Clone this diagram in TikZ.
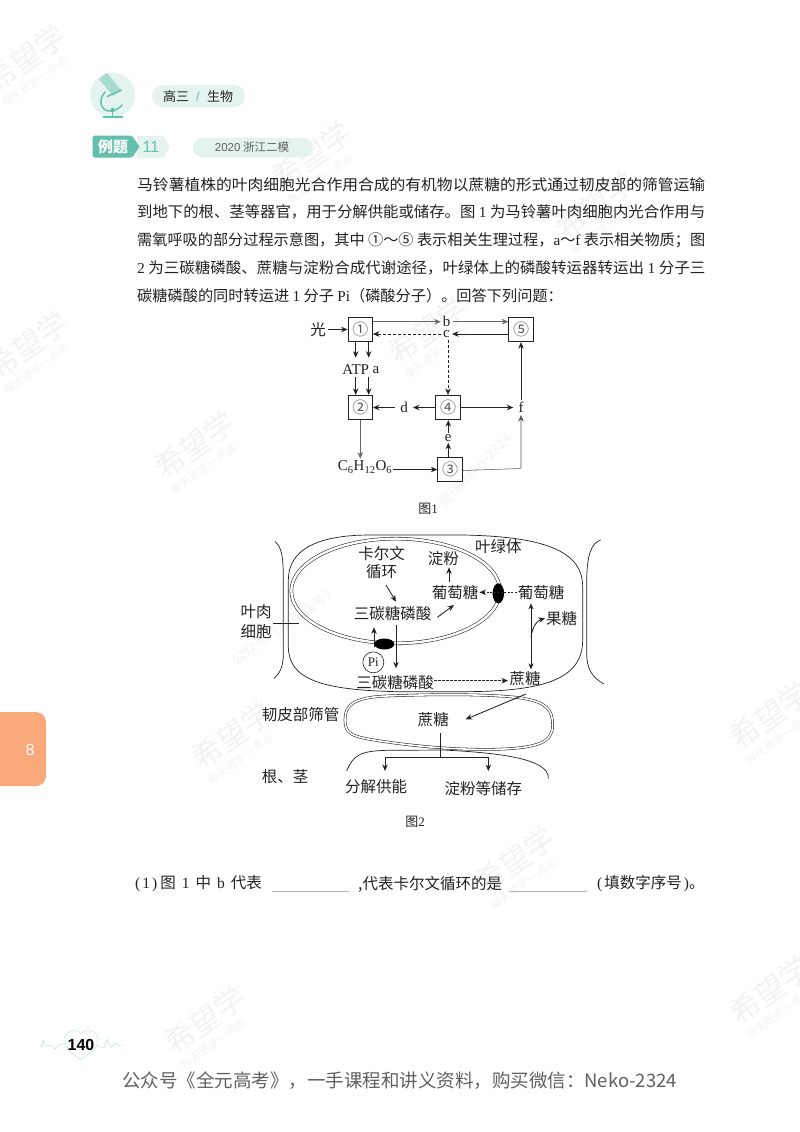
\documentclass[tikz,border=0pt]{standalone}
\usepackage{fontspec}
\usetikzlibrary{arrows.meta,shapes.geometric,calc}
\setmainfont{Liberation Serif}
\newfontfamily\cjk{Noto Sans CJK SC}
\newfontfamily\hei{Liberation Sans}
\newcommand{\fs}[1]{\fontsize{#1}{#1}\selectfont}
\newcommand{\jl}[1]{\resizebox{568pt}{\height}{#1}}
\newcommand{\lat}[1]{{\rmfamily #1}}
\definecolor{tealA}{HTML}{62C0AC}
\definecolor{tealB}{HTML}{E4F3EF}
\definecolor{tealC}{HTML}{A6DCCF}
\definecolor{wm}{HTML}{F3F3F3}
\definecolor{ink}{HTML}{222222}
\tikzset{
  x=1pt,y=-1pt,
  arr/.style={-{Stealth[length=6.5pt,width=5.5pt]},line width=.85pt,color=ink},
  thinarr/.style={arr,color=gray!80!black,line width=.55pt},
  dasharr/.style={arr,dashed,dash pattern=on 3pt off 2pt,line width=.55pt},
  bx/.style={draw=ink,line width=.8pt,minimum size=24.5pt,inner sep=0pt,font=\cjk\fs{16},text=gray!70!black},
  lab/.style={inner sep=2pt,font=\fs{15},text=ink},
  zh/.style={inner sep=0pt,font=\cjk\fs{15.5},text=ink,align=center},
  body/.style={anchor=west,inner sep=0pt,font=\cjk\fs{15.2},text=ink},
  dbl/.style={draw=ink,line width=.55pt,double=white,double distance=2.4pt},
  dbl2/.style={draw=ink,line width=.55pt,double=white,double distance=1.6pt},
  crv/.style={draw=ink,line width=.7pt},
  wmk/.style={inner sep=0pt,font=\cjk\fs{30},text=wm,rotate=35},
  wms/.style={inner sep=0pt,font=\cjk\fs{11},text=wm,rotate=35},
  qtext/.style={anchor=west,inner sep=0pt,font=\cjk\fs{15.5},text=ink},
}
\begin{document}
\begin{tikzpicture}
\useasboundingbox (0,0) rectangle (800,1132);
\fill[white] (0,0) rectangle (800,1132);
% watermarks
\foreach \n/\a/\b in {w1/26/58,w2/312/155,w3/428/330,w4/28/345,w5/195/445,w6/232/735,w7/515/860,w8/205/1020,w9/770/990,w10/770/715,w11/595/205}{
  \node[wmk] (\n) at (\a,\b) {希望学};
  \node[wms] (\n s) at (\a+9,\b+24) {每天进步一点点};
}
\node[wms,rotate=10,font=\cjk\fs{14}] (wmA) at (475,470) {微信Neko-2324};
\node[wms,font=\cjk\fs{14}] (wmB) at (285,625) {公众号《全元高考》};
% tab
\path[fill={rgb,255:red,249;green,168;blue,122}] (0,712) -- (36,712) arc[start angle=-90,end angle=0,radius=10] -- (46,776) arc[start angle=0,end angle=90,radius=10] -- (0,786) -- cycle;
\node[inner sep=0pt,font=\hei\fs{16},text=white] (tabn) at (30,750) {8};
% header icon
\fill[tealB] (112.7,95) circle[radius=22.5];
\draw[tealC,line width=10pt] (103,76) -- (117,93);
\draw[tealA,line width=1.5pt,line cap=round] (105,92) .. controls (97,101) and (102,111) .. (109,111) .. controls (115,111) and (120,108) .. (122,105);
\draw[tealA,line width=1.4pt] (106.7,96.7) -- (121.7,90);
\draw[tealA,line width=1.6pt] (103,116.7) -- (123,116.7);
\draw[tealA,line width=1.4pt] (112.7,108) -- (112.7,116);
\fill[tealA] (112.7,110) circle[radius=2.2];
% pills
\fill[tealB,rounded corners=10.9pt] (152,85) rectangle (245,107);
\node[inner sep=0pt,font=\cjk\fs{13},text=ink] (p1) at (176,96.5) {高三};
\node[inner sep=0pt,font=\hei\fs{13},text=tealA] (p2) at (198,96.5) {/};
\node[inner sep=0pt,font=\cjk\fs{13},text=ink] (p3) at (220,96.5) {生物};
\fill[tealB] (137,136) -- (163,136) -- (170,147) -- (163,158) -- (137,158) -- cycle;
\fill[tealA,rounded corners=1.5pt] (92.7,135.7) rectangle (132,157.7);
\fill[tealA] (132,135.7) -- (139.5,146.7) -- (132,157.7) -- cycle;
\node[inner sep=0pt,font=\cjk\bfseries\fs{15},text=white] (p4) at (113,147) {例题};
\node[inner sep=0pt,font=\hei\fs{16},text=tealA] (p5) at (151,147) {11};
\fill[tealB,rounded corners=9.5pt] (192.7,138) rectangle (312.7,157);
\node[inner sep=0pt,font=\cjk\fs{11.5},text=gray!75!black] (p6) at (252,147.5) {{\hei 2020}\ 浙江二模};
% body
\node[body] (t1) at (137,185) {\jl{马铃薯植株的叶肉细胞光合作用合成的有机物以蔗糖的形式通过韧皮部的筛管运输}};
\node[body] (t2) at (137,212) {\jl{到地下的根、茎等器官，用于分解供能或储存。图 \lat{1} 为马铃薯叶肉细胞内光合作用与}};
\node[body] (t3) at (137,240) {\jl{需氧呼吸的部分过程示意图，其中 ①～⑤ 表示相关生理过程，\lat{a}～\lat{f} 表示相关物质；图}};
\node[body] (t4) at (137,268) {\jl{\lat{2} 为三碳糖磷酸、蔗糖与淀粉合成代谢途径，叶绿体上的磷酸转运器转运出 \lat{1} 分子三}};
\node[body] (t5) at (137,296) {碳糖磷酸的同时转运进 \lat{1} 分子 \lat{Pi}（磷酸分子）。回答下列问题：};
% figure 1
\node[bx] (n1) at (360.3,329.5) {①};
\node[bx] (n5) at (521,329.5) {⑤};
\node[bx] (n2) at (360.3,407.5) {②};
\node[bx] (n4) at (448,407.5) {④};
\node[bx] (n3) at (450,469.5) {③};
\node[zh,inner sep=2.5pt] (guang) at (318,329.5) {光};
\node[lab] (b) at (446.7,321.7) {b};
\node[lab] (c) at (446.5,334) {c};
\node[lab,inner xsep=0pt,inner ysep=2pt] (atp) at (355.7,370) {ATP};
\node[lab,inner xsep=0pt,inner ysep=2pt] (a) at (376,370) {a};
\node[lab,inner xsep=5pt] (d) at (404,407.5) {d};
\node[lab,inner xsep=5pt] (f) at (521,407.5) {f};
\node[lab,inner sep=1pt] (e) at (448.3,438) {e};
\node[lab,inner xsep=1pt] (glu) at (365,467) {C\textsubscript{6}H\textsubscript{12}O\textsubscript{6}};
\node[zh] (fig1) at (428,509) {\fs{13}图{\rmfamily 1}};
\coordinate (a1) at (368.7,357.7);
\coordinate (a2) at (368.7,376.7);
\coordinate (a3) at (355.7,357.7);
\draw[arr] (guang) -- (n1);
\draw[thinarr] (n1.east |- b) -- (b.west);
\draw[thinarr] (b.east) -- (n5.west |- b);
\draw[arr] (n5.west |- c) -- (c.east);
\draw[dasharr] (c.west) -- (n1.east |- c);
\draw[dasharr] (c.south -| n4) -- (n4.north);
\draw[arr] (n1.south -| a3) -- (a3);
\draw[arr] (n1.south -| a1) -- (a1);
\draw[arr] (atp.south) -- (n2.north -| atp);
\draw[arr] (a2) -- (n2.north -| a2);
\draw[arr] (n4.west) -- (d.east);
\draw[arr] (d.west) -- (n2.east);
\draw[arr] (n4.east) -- (f.west);
\draw[arr] (f.north) -- (n5.south);
\draw[thinarr] (n2.south) -- (n2.south |- glu.north);
\draw[arr] (glu.east |- n3.west) -- (n3.west);
\draw[arr] (n3.north -| e) -- (e.south);
\draw[arr] (e.north) -- (n4.south -| e);
\draw[thinarr,rounded corners=1pt,color=gray!70!black] ([yshift=-1pt]n3.east) -- (f.south |- 0,468.5) -- (f.south);
% figure 2, top
\begin{scope}[shift={(230,530)},scale=1/3]
  \draw[crv] (175,300) -- (175,150) .. controls (175,60) and (260,15) .. (420,15) -- (700,15) .. controls (960,20) and (1058,70) .. (1058,170) -- (1058,330) .. controls (1058,440) and (960,485) .. (700,485) -- (500,485) .. controls (280,480) and (175,450) .. (175,350) -- cycle;
  \draw[crv] (135,35) .. controls (155,50) and (160,80) .. (160,150) -- (160,370) .. controls (160,410) and (150,430) .. (132,445);
  \draw[crv] (1112,30) .. controls (1085,40) and (1070,70) .. (1070,160) -- (1070,370) .. controls (1070,420) and (1090,445) .. (1122,462);
  \draw[dbl] (497,183) ellipse[x radius=313,y radius=157];
  \node[ellipse,fill=black,inner sep=0pt,minimum width=20pt,minimum height=11pt] (pa) at (463,342) {};
  \node[ellipse,fill=black,inner sep=0pt,minimum width=11.5pt,minimum height=20pt] (pb) at (805,190) {};
  \node[zh] (ylt) at (805,50) {叶绿体};
  \node[zh] (kew) at (455,70) {卡尔文};
  \node[zh] (xh) at (455,125) {循环};
  \node[zh] (df) at (640,85) {淀粉};
  \node[zh] (pt1) at (675,187) {葡萄糖};
  \node[zh] (pt2) at (933,187) {葡萄糖};
  \node[zh] (sa) at (488,252) {三碳糖磷酸};
  \node[zh] (gt) at (995,265) {果糖};
  \node[zh] (yr) at (78,275) {叶肉\\[4pt]细胞};
  \node[circle,draw=ink,line width=.6pt,inner sep=0pt,minimum size=21pt,font=\fs{13},text=ink] (pi) at (430,397) {Pi};
  \node[zh] (sb) at (495,457) {三碳糖磷酸};
  \node[zh] (zt) at (885,447) {蔗糖};
  \coordinate (m1) at (207,280);
  \coordinate (m0) at (130,280);
  \draw[line width=.6pt,color=ink] (m0) -- (m1);
  \coordinate (s1) at (468,165); \coordinate (s2) at (498,215);
  \draw[arr] (s1) -- (s2);
  \coordinate (s3) at (622,262); \coordinate (s4) at (672,225);
  \draw[arr] (s3) -- (s4);
  \coordinate (s5) at (657,155); \coordinate (s6) at (657,112);
  \draw[arr] (s5) -- (s6);
  \draw[arr,dash pattern=on 2pt off 1.5pt,line width=.5pt] ([xshift=-3pt]pt2.west) -- ([xshift=3pt]pt1.east);
  \coordinate (p0) at (432,350); \coordinate (p1) at (432,292);
  \draw[thinarr,color=ink] (p0) -- (p1);
  \coordinate (p2) at (498,285); \coordinate (p3) at (498,415);
  \draw[arr] (p2) -- (p3);
  \coordinate (v0) at (903,220); \coordinate (v1) at (903,418); \coordinate (v2) at (903,320); \coordinate (v3) at (945,265);
  \draw[{Stealth[length=6pt,width=5pt]}-{Stealth[length=6pt,width=5pt]},line width=.8pt,color=ink] (v0) -- (v1);
  \draw[arr] (v2) .. controls (908,290) and (920,272) .. (v3);
  \draw[dasharr,dash pattern=on 2.5pt off 1.5pt] ([xshift=1pt]sb.east |- 0,452) -- ([xshift=-4pt]zt.west |- 0,452);
\end{scope}
% figure 2, bottom
\begin{scope}[shift={(230,670)},scale=1/3]
  \draw[crv] (350,303) .. controls (370,255) and (390,243) .. (470,241) -- (640,240) .. controls (800,248) and (960,265) .. (955,326);
  \draw[dbl2] (345,150) .. controls (345,105) and (370,82) .. (470,78) .. controls (620,72) and (800,72) .. (880,85) .. controls (950,97) and (968,120) .. (968,165) .. controls (968,215) and (930,235) .. (790,238) .. controls (660,240) and (520,225) .. (420,208) .. controls (365,198) and (345,190) .. (345,150) -- cycle;
  \node[zh] (zt2) at (610,150) {蔗糖};
  \node[zh] (rp) at (212,135) {韧皮部筛管};
  \node[zh] (gj) at (165,320) {根、茎};
  \node[zh] (fj) at (438,350) {分解供能};
  \node[zh] (cc) at (760,357) {淀粉等储存};
  \node[zh] (fig2) at (555,457) {\fs{13}图{\rmfamily 2}};
  \coordinate (q1) at (888,72); \coordinate (q2) at (707,148);
  \draw[arr] (q1) -- (q2);
  \coordinate (st) at (630,190); \coordinate (jn) at (630,262);
  \coordinate (ja) at (465,262); \coordinate (jb) at (775,262);
  \coordinate (jc) at (465,303); \coordinate (jd) at (775,303);
  \draw[line width=.8pt,color=ink] (st) -- (jn);
  \draw[arr] (jn) -- (ja) -- (jc);
  \draw[arr] (jn) -- (jb) -- (jd);
\end{scope}
% question
\node[qtext] (q1a) at (135,884) {\lat{(}\hspace{2pt}\lat{1}\hspace{2pt}\lat{)}\hspace{3pt}图\hspace{6pt}\lat{1}\hspace{6pt}中\hspace{6pt}\lat{b}\hspace{6pt}代表};
\coordinate (u1) at (272,891); \coordinate (u2) at (349,891);
\draw[gray!60,line width=.5pt] (u1) -- (u2);
\node[qtext] (q1b) at (358,884) {,代表卡尔文循环的是};
\coordinate (u3) at (509,891); \coordinate (u4) at (587,891);
\draw[gray!60,line width=.5pt] (u3) -- (u4);
\node[qtext] (q1c) at (597,884) {\lat{(}\hspace{2pt}填数字序号\hspace{2pt}\lat{)}。};
% footer
\draw[tealB!70!tealA,line width=.5pt] (40,1044) -- (42,1047) -- (43,1040) -- (46,1046) -- (52,1045) -- (55,1049) -- (58,1045) -- (66,1043);
\draw[tealB!70!tealA,line width=.5pt] (97,1046) -- (104,1048) -- (107,1039) -- (111,1048) -- (115,1043) -- (118,1045) -- (123,1045);
\draw[tealB!70!tealA,line width=.5pt] (81,1060) .. controls (72,1053) and (65,1048) .. (65,1040) .. controls (65,1030) and (77,1028) .. (81,1034) .. controls (85,1028) and (98,1030) .. (98,1040) .. controls (98,1048) and (90,1053) .. (81,1060) -- cycle;
\node[inner sep=0pt,font=\hei\bfseries\fs{16},text=black] (pg) at (81,1044.5) {140};
\node[inner sep=0pt,font=\cjk\fs{18.5},text=gray!75!black] (foot) at (399.5,1081) {公众号《全元高考》，一手课程和讲义资料，购买微信：Neko-2324};
\end{tikzpicture}
\end{document}
